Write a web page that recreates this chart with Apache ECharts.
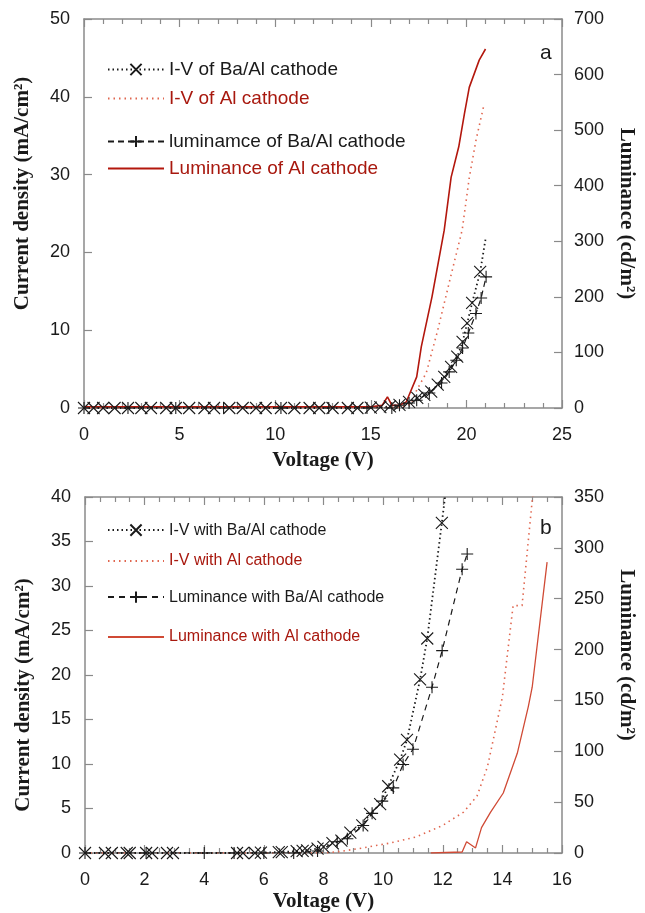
<!DOCTYPE html>
<html>
<head>
<meta charset="utf-8">
<script src="https://cdn.jsdelivr.net/npm/echarts@6/dist/echarts.min.js"></script>
<style>
  html, body { margin: 0; padding: 0; background: #fff; }
  #chart { width: 645px; height: 913px; }
</style>
</head>
<body>
<div id="chart"></div>
<script>
// ---- panel a ----
const aIvBaV = [0, 0.5, 1.0, 1.6, 2.3, 3.0, 3.5, 4.3, 4.8, 5.5, 6.3, 6.8, 7.6, 8.3, 9.0, 9.5, 10.3, 11.0, 11.8, 12.3, 13.0, 13.8, 14.3, 15.0, 15.5, 16.0, 16.5, 17.0, 17.43, 17.8, 18.16, 18.5, 18.84, 19.2, 19.52, 19.8, 20.04, 20.3, 20.72, 21.0];
const aIvBaJ = [0, 0, 0, 0, 0, 0, 0, 0, 0, 0, 0, 0, 0, 0, 0, 0, 0, 0, 0, 0, 0, 0, 0, 0.05, 0.1, 0.2, 0.4, 0.8, 1.3, 1.7, 2.1, 3.0, 4.0, 5.3, 6.6, 8.5, 10.9, 13.5, 17.5, 21.7];
const aIvAlV = [0, 2, 4, 6, 8, 10, 12, 14, 15, 16, 16.6, 17.1, 17.4, 17.9, 18.5, 19.1, 19.78, 20.15, 20.5, 20.93];
const aIvAlJ = [0, 0, 0, 0, 0, 0, 0, 0, 0, 0.05, 0.15, 0.5, 2.3, 4.5, 10.0, 16.1, 22.9, 29.6, 34.4, 39.1];
const aLumBaV = [0, 2.3, 4.8, 7.3, 10.3, 12.8, 14.8, 16.1, 16.5, 17.0, 17.4, 18.06, 18.7, 19.1, 19.47, 19.8, 20.1, 20.5, 20.77, 21.03];
const aLumBaL = [0, 0, 0, 0, 0, 0, 0, 0, 5, 9, 14, 27, 45, 65, 86, 108, 135, 170, 198, 236];
const aLumAlV = [0, 2, 4, 6, 8, 10, 12, 14, 15, 15.6, 15.87, 16.1, 16.5, 16.86, 17.0, 17.4, 17.64, 18.2, 18.84, 19.2, 19.6, 19.9, 20.15, 20.67, 21.0];
const aLumAlL = [2, 2, 2, 2, 2, 2, 2, 2, 2, 5, 20, 5, 5, 11, 23, 56, 110, 200, 320, 415, 470, 530, 577, 626, 646];

// ---- panel b ----
const bIvBaV = [0, 0.67, 0.9, 1.4, 1.5, 2.05, 2.25, 2.75, 2.95, 5.1, 5.3, 5.7, 5.9, 6.5, 6.6, 7.1, 7.3, 7.45, 7.8, 8.0, 8.3, 8.6, 8.9, 9.3, 9.56, 9.9, 10.17, 10.57, 10.8, 11.24, 11.48, 11.97, 12.15];
const bIvBaJ = [0, 0, 0, 0, 0, 0, 0, 0, 0, 0, 0, 0, 0.05, 0.1, 0.1, 0.2, 0.25, 0.3, 0.5, 0.7, 1.1, 1.4, 2.3, 3.1, 4.4, 5.5, 7.5, 10.5, 12.7, 19.5, 24.1, 37.1, 42];
const bIvAlV = [0, 2, 4, 6, 7.7, 8.2, 8.6, 9.2, 10.2, 11.1, 12.0, 12.7, 13.15, 13.5, 14.0, 14.36, 14.66, 15.0, 15.05];
const bIvAlJ = [0, 0, 0, 0, 0, 0.05, 0.2, 0.5, 1.1, 1.8, 3.1, 4.6, 6.4, 9.7, 17.5, 27.8, 27.8, 39.6, 41];
const bLumBaV = [0, 2.05, 4.0, 5.0, 6.0, 7.0, 7.8, 8.46, 8.8, 9.33, 9.63, 9.97, 10.34, 10.67, 11.0, 11.64, 11.98, 12.65, 12.82];
const bLumBaL = [0, 0, 0, 0, 0, 0, 2, 11, 14, 27, 39, 51, 64, 87, 102, 163, 199, 279, 294];
const bLumAlV = [11.6, 12.65, 12.8, 13.1, 13.3, 13.6, 14.03, 14.5, 14.87, 15.0, 15.5];
const bLumAlL = [0, 1, 11, 5, 25, 40, 59, 98, 144, 163, 286];

const CROSS = 'path://M0,0L10,10M10,0L0,10';
const PLUS = 'path://M5,0L5,10M0,5L10,5';
const BLACK = '#1a1a1a';
const RED_TXT = '#a8180e';
const AXIS = '#8a8a8a';
const SANS = '"Liberation Sans", Arial, sans-serif';
const SERIF = '"Liberation Serif", "Times New Roman", serif';

const zip = (xs, ys) => xs.map((x, i) => [x, ys[i]]);
// hide the marker on the trailing point (line keeps going past the last marker)
const lastBare = pts => pts.map((p, i) => i === pts.length - 1 ? { value: p, symbol: 'none' } : p);

function xAx(grid, max, interval, minor, top) {
  return {
    type: 'value', gridIndex: grid, min: 0, max, interval,
    position: top ? 'top' : 'bottom',
    name: top ? '' : 'Voltage (V)', nameLocation: 'middle', nameGap: grid === 0 ? 42 : 38,
    nameTextStyle: { fontFamily: SERIF, fontWeight: 'bold', fontSize: 21, color: BLACK },
    axisLine: { onZero: false, lineStyle: { color: AXIS, width: 1.5 } },
    axisTick: { inside: true, length: 8, lineStyle: { color: AXIS, width: 1.2 } },
    minorTick: { show: true, splitNumber: minor, length: 5, lineStyle: { color: AXIS, width: 1.2 } },
    axisLabel: { show: !top, margin: 18, fontFamily: SANS, fontSize: 18, color: BLACK },
    splitLine: { show: false },
  };
}

// pad shifts the rotated name along the axis (the source figure is not centred)
function yAx(grid, max, interval, right, name, gap, pad) {
  return {
    type: 'value', gridIndex: grid, min: 0, max, interval,
    position: right ? 'right' : 'left',
    name, nameLocation: 'middle', nameGap: gap, nameRotate: right ? -90 : 90,
    nameTextStyle: { fontFamily: SERIF, fontWeight: 'bold', fontSize: 21, color: BLACK, padding: pad },
    axisLine: { show: true, onZero: false, lineStyle: { color: AXIS, width: 1.5 } },
    axisTick: { inside: true, length: 8, lineStyle: { color: AXIS, width: 1.2 } },
    axisLabel: { margin: right ? 12 : 14, fontFamily: SANS, fontSize: 18, color: BLACK },
    splitLine: { show: false },
  };
}

function line(name, x, y, data, color, type, width, symbol) {
  return {
    name, type: 'line', xAxisIndex: x, yAxisIndex: y, data,
    symbol: symbol || 'circle', symbolSize: 12, showSymbol: !!symbol,
    // plain lines keep an invisible legend marker (legend falls back to a circle for 'none')
    itemStyle: symbol
      ? { color: 'none', borderColor: color, borderWidth: 1.1 }
      : { color: 'rgba(0,0,0,0)', borderColor: 'rgba(0,0,0,0)', borderWidth: 0 },
    lineStyle: { color, type, width },
    animation: false, z: symbol ? 3 : 2,
  };
}

const legends = [
  ['I-V of Ba/Al cathode', 55, BLACK, 19],
  ['I-V of Al cathode', 84, RED_TXT, 19],
  ['luminamce of Ba/Al cathode', 127, BLACK, 19],
  ['Luminance of Al cathode', 154, RED_TXT, 19],
  ['I-V with Ba/Al cathode', 517, BLACK, 16],
  ['I-V with Al cathode', 548, RED_TXT, 16],
  ['Luminance with Ba/Al cathode', 584, BLACK, 16],
  ['Luminance with Al cathode', 624, RED_TXT, 16],
].map(([name, top, color, size]) => ({
  data: [name], left: 102, top, itemWidth: 56, itemHeight: 14, itemGap: 0,
  textStyle: { color, fontFamily: SANS, fontSize: size },
  selectedMode: false,
}));

const chart = echarts.init(document.getElementById('chart'), null, { renderer: 'canvas' });
chart.setOption({
  backgroundColor: '#fff',
  animation: false,
  title: [
    { text: 'a', left: 535, top: 38, textStyle: { fontFamily: SANS, fontWeight: 'normal', fontSize: 21, color: BLACK } },
    { text: 'b', left: 535, top: 513, textStyle: { fontFamily: SANS, fontWeight: 'normal', fontSize: 21, color: BLACK } },
  ],
  legend: legends,
  grid: [
    { left: 84, right: 82, top: 19, height: 389 },
    { left: 85, right: 83, top: 497, height: 361 },
  ],
  xAxis: [xAx(0, 25, 5, 5, false), xAx(0, 25, 5, 5, true), xAx(1, 16, 2, 4, false), xAx(1, 16, 2, 4, true)],
  yAxis: [
    yAx(0, 50, 10, false, 'Current density (mA/cm²)', 51, [0, 0, 0, 40]),
    yAx(0, 700, 100, true, 'Luminance (cd/m²)', 54, 0),
    yAx(1, 40, 5, false, 'Current density (mA/cm²)', 51, [0, 40, 0, 0]),
    yAx(1, 350, 50, true, 'Luminance (cd/m²)', 54, [0, 40, 0, 0]),
  ],
  series: [
    line('Luminance of Al cathode', 0, 1, zip(aLumAlV, aLumAlL), '#b3170d', 'solid', 1.6),
    line('I-V of Al cathode', 0, 0, zip(aIvAlV, aIvAlJ), '#e0664f', [1.5, 4], 1.6),
    line('luminamce of Ba/Al cathode', 0, 1, zip(aLumBaV, aLumBaL), BLACK, [6, 4], 1.2, PLUS),
    line('I-V of Ba/Al cathode', 0, 0, lastBare(zip(aIvBaV, aIvBaJ)), BLACK, [1.5, 3], 1.8, CROSS),

    line('Luminance with Al cathode', 2, 3, zip(bLumAlV, bLumAlL), '#d04a35', 'solid', 1.3),
    line('I-V with Al cathode', 2, 2, lastBare(zip(bIvAlV, bIvAlJ)), '#e0664f', [1.5, 4], 1.6),
    line('Luminance with Ba/Al cathode', 2, 3, zip(bLumBaV, bLumBaL), BLACK, [6, 5], 1.2, PLUS),
    line('I-V with Ba/Al cathode', 2, 2, lastBare(zip(bIvBaV, bIvBaJ)), BLACK, [1.5, 3], 1.8, CROSS),
  ],
});
</script>
</body>
</html>
